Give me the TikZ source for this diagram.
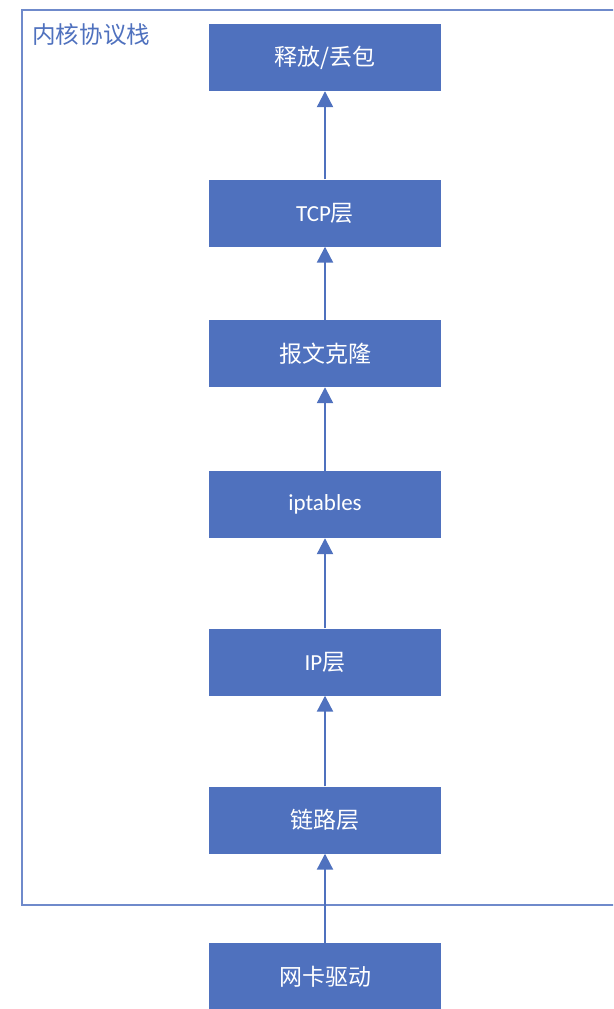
\documentclass[tikz,border=0pt]{standalone}
\usepackage{fontspec}
\setmainfont{Carlito}
\newfontfamily\cjk{Noto Sans CJK SC}
\usetikzlibrary{arrows.meta}
\definecolor{boxblue}{HTML}{4F71BE}
\definecolor{framblue}{HTML}{6F8ACB}
\tikzset{
  layerbox/.style={draw=none, fill=boxblue, minimum width=232pt, minimum height=67pt, inner sep=0pt, text=white, font=\fontsize{23}{26}\selectfont},
  upflow/.style={draw=boxblue, line width=2.2pt, -{Triangle[width=16pt,length=16pt]}}
}
\begin{document}
\begin{tikzpicture}[x=1pt,y=-1pt]
\useasboundingbox (0,0) rectangle (613,1009);
\clip (0,0) rectangle (613,1009);
\draw[draw=framblue, line width=1.6pt] (22,10) rectangle (660,905);
\node[anchor=west, text=boxblue, font=\cjk\fontsize{23.6}{26}\selectfont, inner sep=0pt] (title) at (32,35) {内核协议栈};
\node[layerbox] (rel) at (325,57.5) {\cjk 释放/丢包};
\node[layerbox] (tcp) at (325,213) {TCP\cjk 层};
\node[layerbox] (clone) at (325,353.5) {\cjk 报文克隆};
\node[layerbox] (ipt) at (325,504.5) {iptables};
\node[layerbox] (ip) at (325,662) {IP\cjk 层};
\node[layerbox] (link) at (325,820) {\cjk 链路层};
\node[layerbox] (nic) at (325,976.5) {\cjk 网卡驱动};
\draw[upflow] (nic) -- (link);
\draw[upflow] (link) -- (ip);
\draw[upflow] (ip) -- (ipt);
\draw[upflow] (ipt) -- (clone);
\draw[upflow] (clone) -- (tcp);
\draw[upflow] (tcp) -- (rel);
\end{tikzpicture}
\end{document}
